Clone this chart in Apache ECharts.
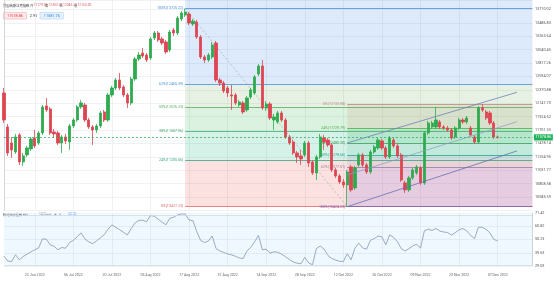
<!DOCTYPE html>
<html><head><meta charset="utf-8">
<script src="https://cdn.jsdelivr.net/npm/echarts/dist/echarts.min.js"></script>
<style>html,body{margin:0;padding:0;background:#fff}#c{width:554px;height:281px}</style>
</head><body><div id="c"></div>
<script>
const dates = ['10 Jun 2022','13 Jun 2022','14 Jun 2022','15 Jun 2022','16 Jun 2022','17 Jun 2022','20 Jun 2022','21 Jun 2022','22 Jun 2022','23 Jun 2022','24 Jun 2022','27 Jun 2022','28 Jun 2022','29 Jun 2022','30 Jun 2022',
'01 Jul 2022','04 Jul 2022','05 Jul 2022','06 Jul 2022','07 Jul 2022','08 Jul 2022','11 Jul 2022','12 Jul 2022','13 Jul 2022','14 Jul 2022','15 Jul 2022','18 Jul 2022','19 Jul 2022','20 Jul 2022','21 Jul 2022','22 Jul 2022','25 Jul 2022','26 Jul 2022','27 Jul 2022','28 Jul 2022','29 Jul 2022',
'01 Aug 2022','02 Aug 2022','03 Aug 2022','04 Aug 2022','05 Aug 2022','08 Aug 2022','09 Aug 2022','10 Aug 2022','11 Aug 2022','12 Aug 2022','15 Aug 2022','16 Aug 2022','17 Aug 2022','18 Aug 2022','19 Aug 2022','22 Aug 2022','23 Aug 2022','24 Aug 2022','25 Aug 2022','26 Aug 2022','29 Aug 2022','30 Aug 2022','31 Aug 2022',
'01 Sep 2022','02 Sep 2022','05 Sep 2022','06 Sep 2022','07 Sep 2022','08 Sep 2022','09 Sep 2022','12 Sep 2022','13 Sep 2022','14 Sep 2022','15 Sep 2022','16 Sep 2022','19 Sep 2022','20 Sep 2022','21 Sep 2022','22 Sep 2022','23 Sep 2022','26 Sep 2022','27 Sep 2022','28 Sep 2022','29 Sep 2022','30 Sep 2022',
'03 Oct 2022','04 Oct 2022','05 Oct 2022','06 Oct 2022','07 Oct 2022','10 Oct 2022','11 Oct 2022','12 Oct 2022','13 Oct 2022','14 Oct 2022','17 Oct 2022','18 Oct 2022','19 Oct 2022','20 Oct 2022','21 Oct 2022','24 Oct 2022','25 Oct 2022','26 Oct 2022','27 Oct 2022','28 Oct 2022','31 Oct 2022',
'01 Nov 2022','02 Nov 2022','03 Nov 2022','04 Nov 2022','07 Nov 2022','08 Nov 2022','09 Nov 2022','10 Nov 2022','11 Nov 2022','14 Nov 2022','15 Nov 2022','16 Nov 2022','17 Nov 2022','18 Nov 2022','21 Nov 2022','22 Nov 2022','23 Nov 2022','24 Nov 2022','25 Nov 2022','28 Nov 2022','29 Nov 2022','30 Nov 2022',
'01 Dec 2022','02 Dec 2022','05 Dec 2022','06 Dec 2022','07 Dec 2022','08 Dec 2022','09 Dec 2022','12 Dec 2022','13 Dec 2022','14 Dec 2022','15 Dec 2022','16 Dec 2022','19 Dec 2022','20 Dec 2022'];

const xTickLabels = ['22 Jun 2022','06 Jul 2022','20 Jul 2022','03 Aug 2022','17 Aug 2022','31 Aug 2022','14 Sep 2022','28 Sep 2022','12 Oct 2022','26 Oct 2022','09 Nov 2022','23 Nov 2022','07 Dec 2022'];

const opens = [12319,11753,11486,11337,11620,11170,11287,11387,11570,11486,
11653,12103,12053,11670,11653,11486,11586,11503,11770,11869,
12086,12119,11869,11753,11703,11770,12003,11869,12286,12402,
12536,12419,12286,12153,12552,12886,12985,12952,12902,13235,
13319,13219,13169,13035,13369,13319,13552,13618,13635,13469,
13502,13252,12919,12869,12919,13152,12536,12486,12402,12286,
12286,12119,12153,12036,12252,12319,12636,12769,12069,12136,
11869,11836,11986,11869,11586,11503,11320,11270,11287,11486,
11170,10987,11253,11570,11536,11453,11037,10937,10837,10787,
11087,10737,11120,11287,11120,11003,11337,11403,11520,11403,
11253,11536,11437,11287,10820,10704,10904,10987,11070,10820,
11653,11753,11753,11836,11753,11736,11703,11586,11736,11869,
11836,11736,11586,11503,12069,12003,11986,11819,11586];
const closes = [11869,11320,11370,11586,11170,11270,11403,11553,11437,11653,
12086,12036,11653,11636,11486,11586,11520,11770,11869,12086,
12153,11869,11753,11703,11770,11986,11869,12286,12402,12536,
12402,12286,12153,12552,12886,12952,12935,12869,13219,13319,
13202,13152,13002,13335,13319,13568,13652,13668,13485,13518,
13252,12919,12869,12952,13119,12536,12486,12352,12319,12269,
12153,12169,12003,12236,12369,12586,12769,12069,12136,11903,
11919,11986,11869,11586,11486,11320,11253,11220,11486,11153,
10987,11253,11586,11503,11453,11037,10937,10837,10787,11003,
10704,11070,11287,11120,11003,11337,11420,11536,11403,11253,
11570,11437,11270,10870,10704,10904,11037,11087,10820,11653,
11819,11819,11869,11753,11736,11703,11570,11736,11869,11836,
11903,11620,11503,12069,12036,11903,11819,11586,11578.86];
const lows = [11819,11270,11237,11303,11120,11103,11253,11353,11403,11453,
11620,12003,11620,11570,11453,11320,11470,11370,11736,11836,
12053,11836,11720,11453,11653,11736,11836,11836,12252,12369,
12369,12252,12069,12119,12519,12852,12902,12836,12869,13202,
13169,13119,12969,13002,13269,13285,13518,13585,13452,13435,
13219,12886,12819,12836,12886,12502,12436,12319,12252,12036,
12119,12086,11969,12003,12219,12286,12602,12036,12019,11869,
11703,11803,11836,11553,11453,11287,11153,11120,11253,11087,
10953,10870,11220,11370,11420,11003,10904,10804,10737,10427.23,
10670,10704,11087,11087,10970,10970,11303,11370,11370,11220,
11220,11403,11237,10837,10653,10670,10870,10953,10787,10787,
11620,11720,11720,11720,11703,11670,11536,11553,11703,11803,
11803,11586,11470,11470,12003,11869,11786,11553,11560];
const highs = [12402,11803,11586,11636,11653,11320,11437,11586,11703,11686,
12119,12236,12086,11720,11686,11620,11636,11803,11903,12119,
12203,12153,11903,11786,11803,12019,12036,12319,12436,12569,
12652,12452,12319,12586,12919,13002,13069,12985,13252,13352,
13352,13252,13202,13369,13402,13602,13685,13725.22,13668,13552,
13535,13285,12952,12985,13169,13185,12569,12519,12436,12452,
12319,12203,12186,12269,12402,12619,12802,12869,12186,12169,
11969,12019,12019,11903,11620,11536,11353,11370,11520,11520,
11203,11287,11636,11620,11570,11486,11070,10970,10887,11037,
11120,11103,11320,11320,11153,11370,11453,11570,11553,11437,
11603,11570,11470,11320,10854,10937,11070,11120,11103,11686,
11853,11853,12086,11869,11786,11770,11736,11770,11903,11903,
11936,11770,11620,12103,12133.08,12036,12019,11853,11610];

const rsiValues = [37,33,32.6,38,34,36.6,38.5,40.3,42,43.5,
50.7,50.5,45.9,44.8,42,43.8,43.3,47.8,49.5,52.5,
55.5,50.7,48.3,46.9,49,51.5,54,58.5,61.9,60,
58,56,53.9,59,63.5,65.5,65.6,64.5,69.5,68.7,
66.5,64,62,67.2,68,69.8,70.6,70.6,65.8,65.3,
56.5,49.5,47.8,49,53,43,41,39.8,38.7,38,
36.8,35.5,35,41,44,48.5,53.5,42,42.5,39.3,
40.4,40,38.5,36.4,34.2,32.3,31.3,30.8,36,31.5,
30,43,45,42.5,37.5,35,33.8,32.8,32.6,38.8,
34,43.3,47.3,43.5,42.5,49.5,51,53,52.3,46,
53.9,52,48.5,43,41,43,45.1,46.5,43.3,57.2,
58.4,57.5,59,57,56.2,55.8,53.8,55.7,58,59,
57,53.5,51,60,60,58.3,55.5,50.3,49.1];

const yTickLabels = ['10585.39','10808.58','11031.77','11254.95','11478.14','11701.33','11924.52','12147.70','12370.88','12594.07','12817.26','13040.45','13263.64','13486.83','13710.02'];
const rsiTickLabels = ['29.03','39.63','50.23','60.82','71.42'];

const lastPrice = 11578.86;
const bidPrice = '11578.86', spread = '2.90', askPrice = '11581.76';
const titleName = '美国纳斯达克指数';
const ohlcNames = ['开','高','低','收'];
const ohlcValues = ['12179.50','12303.75','12045.62','12160.00'];
const rsiName = '相对强弱指数 RSI', rsiParams = '14 Close', rsiLast = '52.85';

const fib1Start = '16 Aug 2022';
const fib1Pct = ['100%','62%','50%','38%','24%','0%'];
const fib1Values = [13725.22,12465.39,12076.23,11687.06,11205.56,10427.23];
const fib2Start = '13 Oct 2022';
const fib2Pct = ['0%','24%','38%','50%','62%','100%'];
const fib2Values = [12133.08,11729.79,11480.30,11278.66,11077.01,10424.23];
const channelDates = ['13 Oct 2022','14 Dec 2022'];
const channelUpper = [11486,12330];
const channelMiddle = [10953,11840];
const channelLower = [10424.23,11353];
const rsiBand = [70,30];

const Y_MIN = 10362.2025, Y_INT = 223.1875, Y_MAX = 13868.2;
const R_MIN = 29.03, R_INT = 10.5975, R_MAX = 71.42;

const FONT = 'Roboto, "Noto Sans", "Noto Sans CJK SC", sans-serif';
const UP = '#2eaa4f', DOWN = '#dd4550';
const lastIdx = dates.length - 1;
const isTick = (idx) => xTickLabels.indexOf(dates[idx]) >= 0;
const pick = (arr, v, tol) => { for (const s of arr) if (Math.abs(parseFloat(s) - v) < tol) return s; return ''; };
const candleData = opens.map((o, i) => [o, closes[i], lows[i], highs[i]]);
const f1 = dates.indexOf(fib1Start), f2 = dates.indexOf(fib2Start);
const c0 = dates.indexOf(channelDates[0]), c1 = dates.indexOf(channelDates[1]);

const fib1Fill = ['rgba(45,130,230,0.17)','rgba(110,170,90,0.17)','rgba(40,180,70,0.17)','rgba(0,180,120,0.17)','rgba(240,80,80,0.17)'];
const fib1Line = ['#4a8fd8','#4a8fd8','#55ad5d','#43ad6c','#36a487','#e06a6a'];
const fib2Fill = ['rgba(200,110,60,0.12)','rgba(40,170,80,0.17)','rgba(30,160,120,0.1)','rgba(110,110,150,0.12)','rgba(100,90,220,0.15)'];
const fib2Line = ['#c08a80','#4caf50','#3e9e5e','#2e9f8a','#8c7fa8','#7d5fb4'];

function bands(start, bounds, fills) {
  const out = [];
  for (let k = 0; k < fills.length; k++) {
    out.push([{ coord: [start, bounds[k]], itemStyle: { color: fills[k] } }, { coord: [lastIdx, bounds[k + 1]] }]);
  }
  return out;
}
function levels(start, pcts, vals, cols) {
  return vals.map((v, k) => [
    { coord: [start, v], lineStyle: { color: cols[k], width: 0.8, type: 'solid' },
      label: { formatter: pcts[k] + '(' + v.toFixed(2) + ')', color: cols[k] } },
    { coord: [lastIdx, v] }
  ]);
}

const chart = echarts.init(document.getElementById('c'));
const option = {
  animation: false,
  backgroundColor: '#ffffff',
  grid: [
    { left: 3.9, right: 21.6, top: 0, bottom: 70.6 },
    { left: 3.9, right: 21.6, top: 213, bottom: 15 }
  ],
  xAxis: [
    { type: 'category', gridIndex: 0, data: dates, boundaryGap: false,
      axisLine: { show: false }, axisTick: { show: false }, axisLabel: { show: false },
      splitLine: { show: true, interval: (i) => isTick(i), lineStyle: { color: '#eceef1', width: 0.8 } } },
    { type: 'value', gridIndex: 0, min: 0, max: lastIdx, show: false },
    { type: 'category', gridIndex: 1, data: dates, boundaryGap: false,
      axisLine: { show: false }, axisTick: { show: false },
      axisLabel: { interval: (i) => isTick(i), fontSize: 3.6, color: '#666', margin: 7, fontFamily: FONT },
      splitLine: { show: true, interval: (i) => isTick(i), lineStyle: { color: '#eceef1', width: 0.8 } } }
  ],
  yAxis: [
    { type: 'value', gridIndex: 0, position: 'right', min: Y_MIN, max: Y_MAX, interval: Y_INT,
      axisLine: { show: true, lineStyle: { color: '#c8ccd2', width: 0.8 } }, axisTick: { show: false },
      axisLabel: { fontSize: 3.8, color: '#555', margin: 2.5, fontFamily: FONT, formatter: (v) => pick(yTickLabels, v, 1) },
      splitLine: { lineStyle: { color: '#eceef1', width: 0.8 } } },
    { type: 'value', gridIndex: 1, position: 'right', min: R_MIN, max: R_MAX, interval: R_INT,
      axisLine: { show: true, lineStyle: { color: '#c8ccd2', width: 0.8 } }, axisTick: { show: false },
      axisLabel: { fontSize: 3.8, color: '#555', margin: 2.5, fontFamily: FONT, formatter: (v) => pick(rsiTickLabels, v, 0.05) },
      splitLine: { lineStyle: { color: '#eceef1', width: 0.8 } } }
  ],
  series: [
    { type: 'line', name: 'fib1', xAxisIndex: 1, yAxisIndex: 0, z: 3,
      data: [[f1, fib1Values[0]], [f2, fib1Values[5]]], symbol: 'none',
      lineStyle: { color: '#9aa0a8', width: 0.6, type: [2, 2] },
      markArea: { silent: true, z: 1, data: bands(f1, [Y_MAX].concat(fib1Values.slice(1)), fib1Fill) },
      markLine: { silent: true, symbol: ['none', 'none'], z: 1.5,
        label: { show: true, position: 'start', fontSize: 3.6, distance: 2, fontFamily: FONT },
        data: levels(f1, fib1Pct, fib1Values, fib1Line) } },
    { type: 'line', name: 'fib2', xAxisIndex: 1, yAxisIndex: 0, z: 3,
      data: [[f2, fib2Values[5]]], symbol: 'none', lineStyle: { width: 0 },
      markArea: { silent: true, z: 1.2, data: bands(f2, fib2Values, fib2Fill) },
      markLine: { silent: true, symbol: ['none', 'none'], z: 1.6,
        label: { show: true, position: 'start', fontSize: 3.6, distance: 2, fontFamily: FONT },
        data: levels(f2, fib2Pct, fib2Values, fib2Line) } },
    { type: 'candlestick', name: 'price', xAxisIndex: 0, yAxisIndex: 0, z: 4, clip: false,
      data: candleData, barWidth: 2.7,
      itemStyle: { color: UP, color0: DOWN, borderColor: UP, borderColor0: DOWN, borderWidth: 0.8 },
      markLine: { silent: true, symbol: ['none', 'none'], z: 6,
        data: [{ yAxis: lastPrice }],
        lineStyle: { color: '#2fae5a', width: 0.8, type: [2, 2] },
        label: { show: true, position: 'end', formatter: lastPrice.toFixed(2), fontSize: 3.8, color: '#fff',
          backgroundColor: '#22b35a', padding: [1.2, 1.5], distance: 1.5, fontFamily: FONT } } },
    { type: 'line', name: 'chU', xAxisIndex: 1, yAxisIndex: 0, z: 5, symbol: 'none',
      data: [[c0, channelUpper[0]], [c1, channelUpper[1]]], lineStyle: { color: '#7080b8', width: 0.8 } },
    { type: 'line', name: 'chM', xAxisIndex: 1, yAxisIndex: 0, z: 5, symbol: 'none',
      data: [[c0, channelMiddle[0]], [c1, channelMiddle[1]]], lineStyle: { color: '#8e98c4', width: 0.7 } },
    { type: 'line', name: 'chL', xAxisIndex: 1, yAxisIndex: 0, z: 5, symbol: 'none',
      data: [[c0, channelLower[0]], [c1, channelLower[1]]], lineStyle: { color: '#6a6fb0', width: 0.8 } },
    { type: 'line', name: 'rsi', xAxisIndex: 2, yAxisIndex: 1, z: 4, symbol: 'none',
      data: rsiValues, lineStyle: { color: '#8ea2b9', width: 0.9 },
      markArea: { silent: true, z: 1, itemStyle: { color: 'rgba(33,150,243,0.07)' },
        data: [[{ yAxis: rsiBand[0] }, { yAxis: rsiBand[1] }]] },
      markLine: { silent: true, symbol: ['none', 'none'], label: { show: false },
        lineStyle: { color: '#c3daf1', width: 0.8, type: 'solid' },
        data: [{ yAxis: rsiBand[0] }, { yAxis: rsiBand[1] }] } }
  ],
  graphic: [
    { type: 'text', x: 3, y: 5.5, style: { text: titleName, font: '3.3px "Noto Sans CJK SC"', fill: '#333', verticalAlign: 'middle' } },
    { type: 'text', x: 30, y: 5.5, style: { text: ohlcNames[0], font: '3.3px "Noto Sans CJK SC"', fill: '#555', verticalAlign: 'middle' } },
    { type: 'text', x: 33.5, y: 5.5, style: { text: ohlcValues[0], font: '3.3px Roboto', fill: '#e05a60', verticalAlign: 'middle' } },
    { type: 'text', x: 45, y: 5.5, style: { text: ohlcNames[1], font: '3.3px "Noto Sans CJK SC"', fill: '#555', verticalAlign: 'middle' } },
    { type: 'text', x: 48.5, y: 5.5, style: { text: ohlcValues[1], font: '3.3px Roboto', fill: '#e05a60', verticalAlign: 'middle' } },
    { type: 'text', x: 59.5, y: 5.5, style: { text: ohlcNames[2], font: '3.3px "Noto Sans CJK SC"', fill: '#555', verticalAlign: 'middle' } },
    { type: 'text', x: 63, y: 5.5, style: { text: ohlcValues[2], font: '3.3px Roboto', fill: '#e05a60', verticalAlign: 'middle' } },
    { type: 'text', x: 74, y: 5.5, style: { text: ohlcNames[3], font: '3.3px "Noto Sans CJK SC"', fill: '#555', verticalAlign: 'middle' } },
    { type: 'text', x: 77.5, y: 5.5, style: { text: ohlcValues[3], font: '3.3px Roboto', fill: '#e05a60', verticalAlign: 'middle' } },
    { type: 'rect', shape: { x: 3.3, y: 12.3, width: 23.4, height: 6.8, r: 1 }, style: { fill: '#fde8ea', stroke: '#f1a3a8', lineWidth: 0.5 } },
    { type: 'text', x: 15, y: 15.8, style: { text: bidPrice, font: '3.8px Roboto', fill: '#e0474f', align: 'center', verticalAlign: 'middle' } },
    { type: 'text', x: 33.5, y: 15.8, style: { text: spread, font: '3.8px Roboto', fill: '#333', align: 'center', verticalAlign: 'middle' } },
    { type: 'rect', shape: { x: 40, y: 12.3, width: 23.6, height: 6.8, r: 1 }, style: { fill: '#e4f0fc', stroke: '#a8cdf1', lineWidth: 0.5 } },
    { type: 'text', x: 51.8, y: 15.8, style: { text: askPrice, font: '3.8px Roboto', fill: '#3a86d8', align: 'center', verticalAlign: 'middle' } },
    { type: 'text', x: 3, y: 214.3, style: { text: rsiName, font: '3.2px "Noto Sans CJK SC"', fill: '#333', verticalAlign: 'middle' } },
    { type: 'text', x: 39, y: 214.3, style: { text: rsiParams, font: '3.2px Roboto', fill: '#777', verticalAlign: 'middle' } },
    { type: 'text', x: 54, y: 214.3, style: { text: '◉  ⚙', font: '3.2px "DejaVu Sans"', fill: '#888', verticalAlign: 'middle' } },
    { type: 'text', x: 68, y: 214.3, style: { text: rsiLast, font: '3.4px Roboto', fill: '#2f8de4', verticalAlign: 'middle' } }
  ]
};
chart.setOption(option);
</script>
</body></html>
